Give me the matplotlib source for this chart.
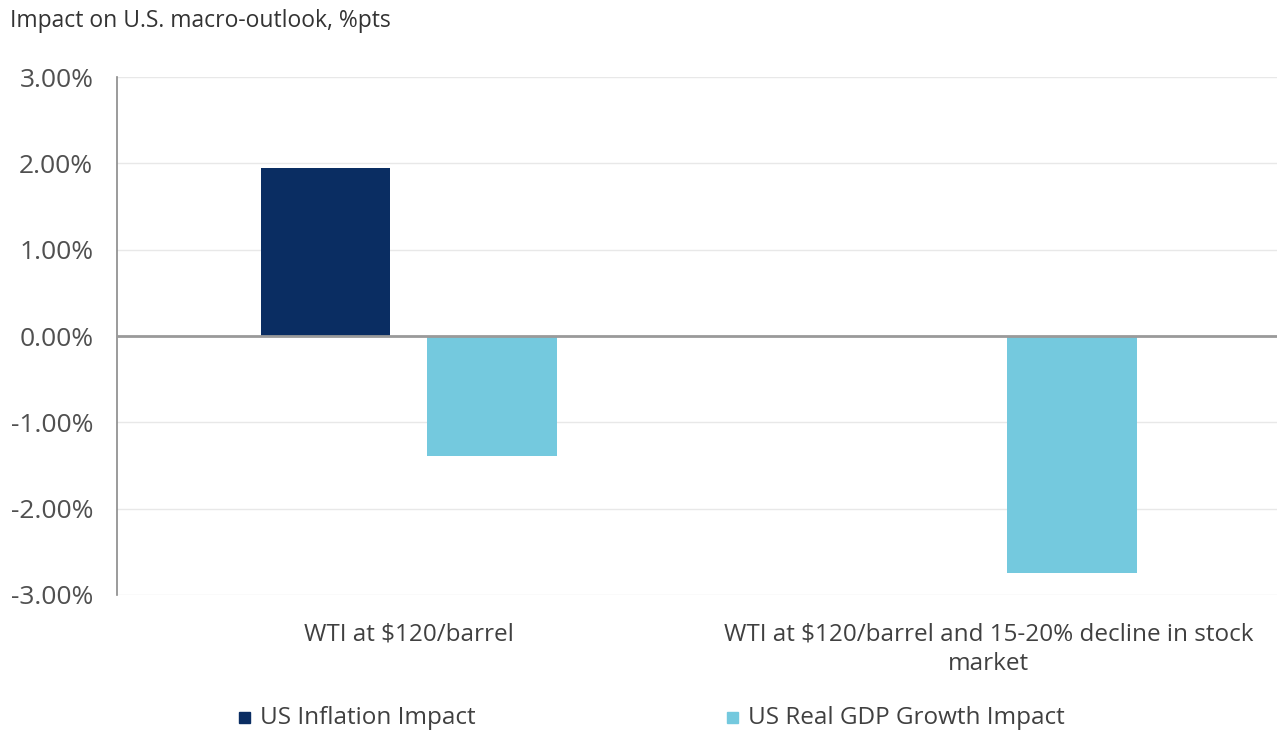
import matplotlib.pyplot as plt
import numpy as np

categories = ["WTI at $120/barrel",
              "WTI at $120/barrel and 15-20% decline in stock\nmarket"]
inflation = [1.95, 0.0]
gdp = [-1.39, -2.75]
series_names = ["US Inflation Impact", "US Real GDP Growth Impact"]
yticks = [3, 2, 1, 0, -1, -2, -3]

navy = "#0a2d62"
sky = "#74c9de"

plt.rcParams['font.family'] = ['Open Sans', 'DejaVu Sans']

fig = plt.figure(figsize=(12.77, 7.35), dpi=100)
ax = fig.add_axes([0.0916, 0.1905, 0.9084, 0.7047])

x = np.arange(len(categories))
w = 0.224
off = 0.1435
ax.bar(x - off, inflation, w, color=navy, label=series_names[0], zorder=3)
ax.bar(x + off, gdp, w, color=sky, label=series_names[1], zorder=3)

ax.set_xlim(-0.503, 1.497)
ax.set_ylim(-3, 3)
ax.set_yticks(yticks)
ax.set_yticklabels(["%.2f%%" % v for v in yticks])
ax.tick_params(axis='y', length=0, pad=17, labelsize=19, labelcolor="#505050")
ax.set_xticks(x)
ax.set_xticklabels(categories, fontsize=17.5, color="#404040", linespacing=1.3)
ax.tick_params(axis='x', length=0, pad=20)

ax.grid(axis='y', color="#e8e8e8", linewidth=1, zorder=0)
ax.axhline(0, color="#9a9a9a", linewidth=2, zorder=4)
for s in ["top", "right", "bottom"]:
    ax.spines[s].set_visible(False)
ax.spines["left"].set_color("#8a8a8a")
ax.spines["left"].set_linewidth(1.2)

fig.text(0.008, 0.972, "Impact on U.S. macro-outlook, %pts", fontsize=16.5,
         color="#333333", va="center", ha="left")

# legend boxes under the chart
for xpos, name, col in [(0.187, series_names[0], navy), (0.569, series_names[1], sky)]:
    fig.patches.append(plt.Rectangle((xpos, 0.016), 0.0086, 0.015, color=col,
                                     transform=fig.transFigure, figure=fig))
    fig.text(xpos + 0.0165, 0.023, name, fontsize=17.5, color="#404040",
             va="center", ha="left")

plt.savefig("out.png", dpi=100)
